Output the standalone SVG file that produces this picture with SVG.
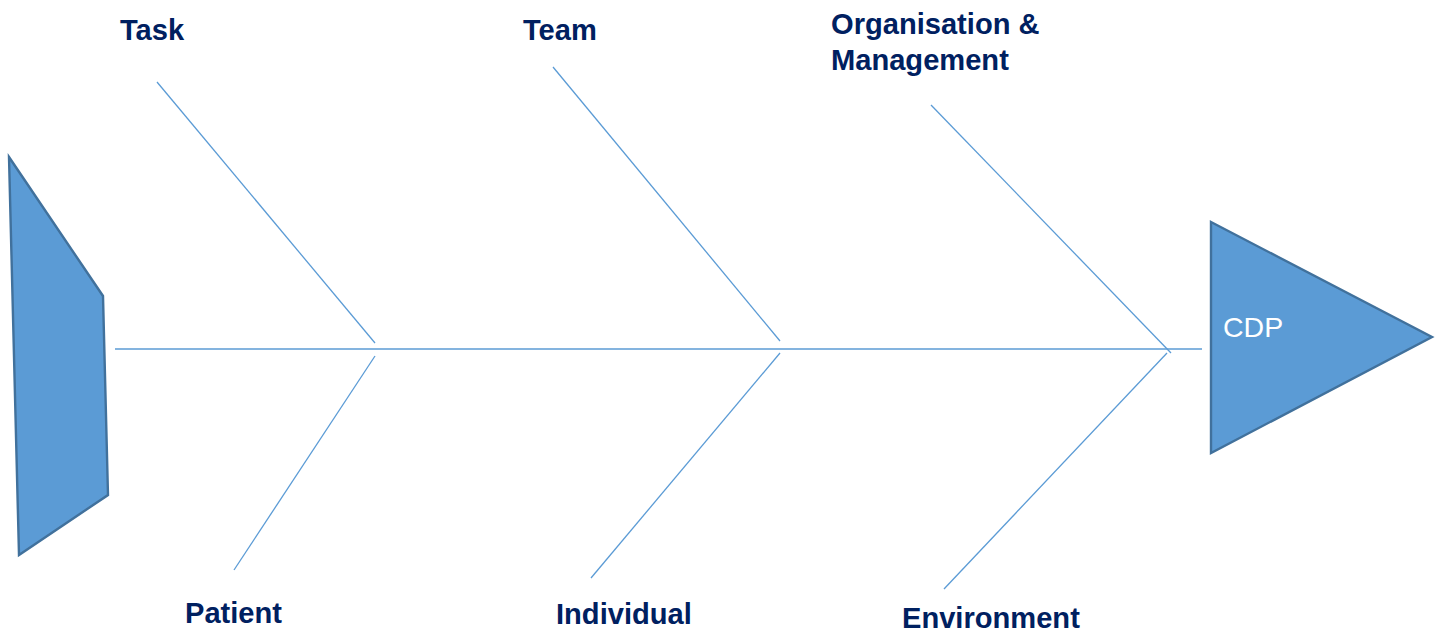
<svg xmlns="http://www.w3.org/2000/svg" width="1441" height="632" viewBox="0 0 1441 632">
  <style>
    .bone { stroke: #5B9BD5; stroke-width: 1.3; fill: none; }
    .shape { fill: #5B9BD5; stroke: #41719C; stroke-width: 2.4; stroke-linejoin: miter; }
    .cat { font-family: "Liberation Sans", Arial, sans-serif; font-weight: bold; font-size: 29.1px; fill: #002060; }
    .head { font-family: "Liberation Sans", Arial, sans-serif; font-size: 28.5px; fill: #FFFFFF; }
  </style>
  <rect width="1441" height="632" fill="#FFFFFF"/>

  <!-- tail of the fish -->
  <g id="tail">
    <polygon class="shape" points="9,157 103,296 108,495 19,555"/>
  </g>

  <!-- head of the fish -->
  <g id="head">
    <polygon class="shape" points="1211,222 1432,337 1211,453"/>
    <text class="head" x="1223" y="337">CDP</text>
  </g>

  <!-- spine and ribs -->
  <g id="connectors">
    <line class="bone" x1="115" y1="349" x2="1202" y2="349"/>
    <line class="bone" x1="157" y1="82" x2="375" y2="343"/>
    <line class="bone" x1="375" y1="356" x2="234" y2="570"/>
    <line class="bone" x1="553" y1="67" x2="780" y2="341"/>
    <line class="bone" x1="780" y1="353" x2="591" y2="578"/>
    <line class="bone" x1="931" y1="105" x2="1171" y2="353"/>
    <line class="bone" x1="1167" y1="353" x2="944" y2="589"/>
  </g>

  <!-- cause categories -->
  <g id="task">
    <text class="cat" x="120" y="40">Task</text>
  </g>
  <g id="team">
    <text class="cat" x="523" y="40">Team</text>
  </g>
  <g id="organisation">
    <text class="cat" x="831" y="34">Organisation &amp;</text>
    <text class="cat" x="831" y="70">Management</text>
  </g>
  <g id="patient">
    <text class="cat" x="185" y="623">Patient</text>
  </g>
  <g id="individual">
    <text class="cat" x="556" y="624">Individual</text>
  </g>
  <g id="environment">
    <text class="cat" x="902" y="628">Environment</text>
  </g>
</svg>
